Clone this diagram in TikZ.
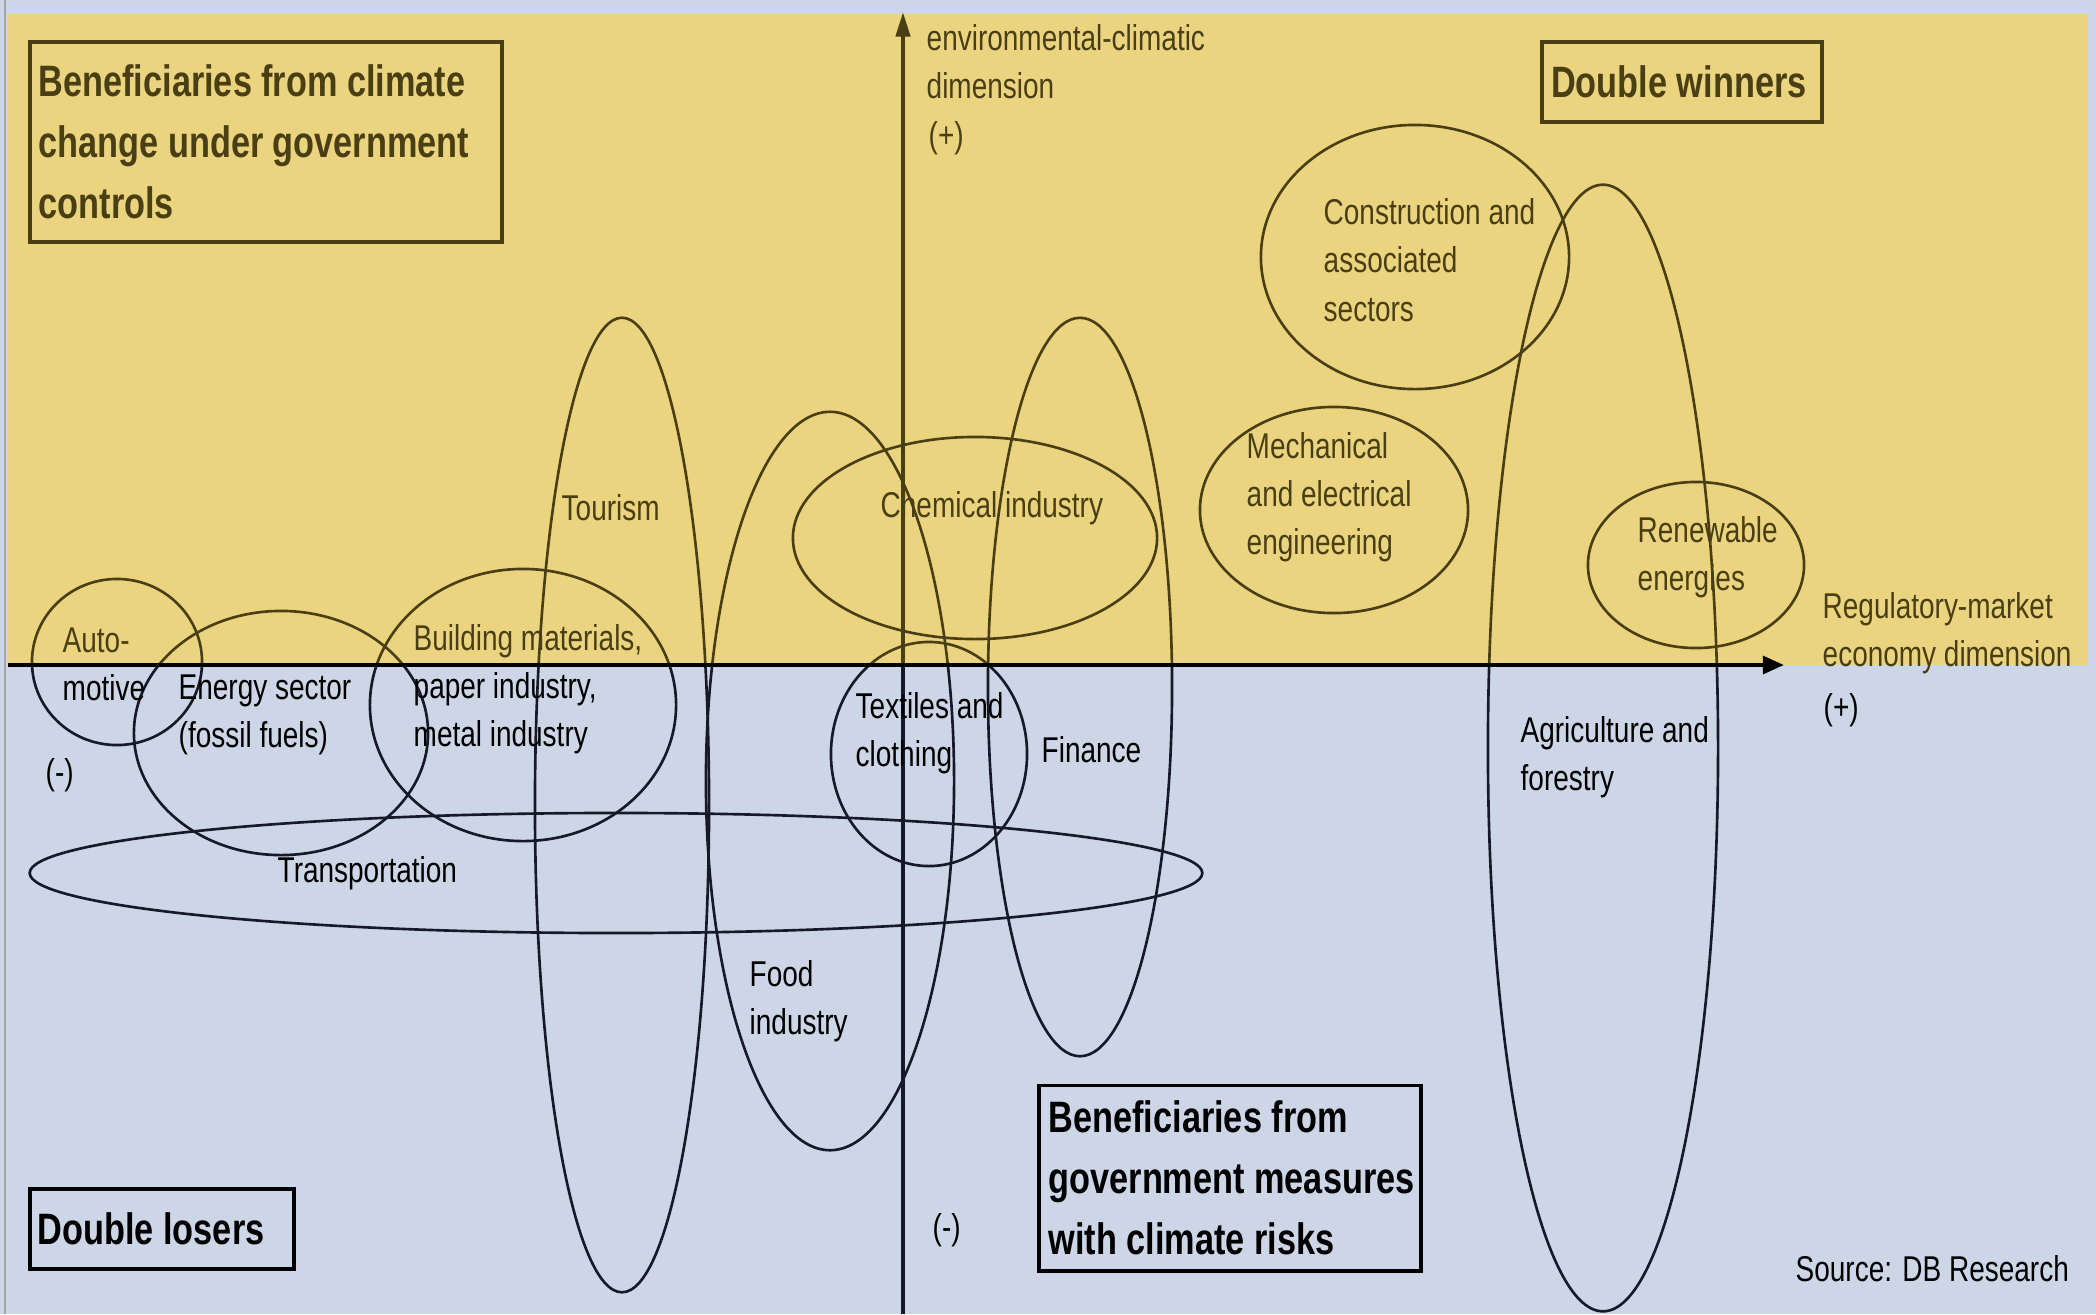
\documentclass[tikz,border=0pt]{standalone}
\usepackage{fontspec}
\setmainfont{Liberation Sans}[FakeStretch=0.78]
\usetikzlibrary{arrows.meta}
\definecolor{bgblue}{HTML}{CDD6E6}
\definecolor{bandyellow}{HTML}{EBD480}
\definecolor{olivink}{HTML}{4A3F14}
\definecolor{inkdark}{HTML}{15192A}
\tikzset{
  ring/.style={line width=0.75pt},
  axisline/.style={line width=1.2pt},
  lbl/.style={font=\fontsize{10.2}{13.7}\selectfont, inner sep=0pt, anchor=west, align=left},
  framebox/.style={draw, line width=1.1pt, inner sep=0pt},
  boxtext/.style={font=\fontsize{12.5}{17.4}\selectfont\bfseries, inner sep=0pt, anchor=west, align=left},
}
\newcommand\drawrings{%
  \draw[ring] (117,662) ellipse [x radius=0.85cm, y radius=0.83cm];
  \draw[ring] (281,733) ellipse [x radius=1.47cm, y radius=1.22cm];
  \draw[ring] (523,705) ellipse [x radius=1.53cm, y radius=1.36cm];
  \draw[ring] (622,805) ellipse [x radius=0.87cm, y radius=4.87cm];
  \draw[ring] (616,873) ellipse [x radius=5.86cm, y radius=0.60cm];
  \draw[ring] (830,781) ellipse [x radius=1.24cm, y radius=3.69cm];
  \draw[ring] (975,538) ellipse [x radius=1.82cm, y radius=1.01cm];
  \draw[ring] (1080,687) ellipse [x radius=0.92cm, y radius=3.69cm];
  \draw[ring] (929,754) ellipse [x radius=0.98cm, y radius=1.12cm];
  \draw[ring] (1415,257) ellipse [x radius=1.54cm, y radius=1.32cm];
  \draw[ring] (1334,510) ellipse [x radius=1.34cm, y radius=1.03cm];
  \draw[ring] (1696,565) ellipse [x radius=1.08cm, y radius=0.83cm];
  \draw[ring] (1603,748) ellipse [x radius=1.15cm, y radius=5.63cm];
  \draw[axisline,-{Triangle[length=7pt,width=4pt]}] (yo) -- (ye);
}
\begin{document}
\begin{tikzpicture}[x=0.01cm,y=-0.01cm]
\useasboundingbox (0,0) rectangle (2096,1314);
\fill[bgblue] (0,0) rectangle (2096,1314);
\fill[bandyellow] (7,14) rectangle (2088,665);
\draw[gray!70, line width=0.5pt] (5,0) -- (5,1314);
\coordinate (xo) at (8,665);
\coordinate (xe) at (1784,665);
\coordinate (yo) at (903,1314);
\coordinate (ye) at (903,12);
% rings and vertical axis: dark below the band, olive inside it
\begin{scope}
  \clip (0,665) rectangle (2096,1314);
  \begin{scope}[color=inkdark] \drawrings \end{scope}
\end{scope}
\begin{scope}
  \clip (0,0) rectangle (2096,665);
  \begin{scope}[color=olivink] \drawrings \end{scope}
\end{scope}
\draw[axisline, color=black, -{Triangle[length=6pt,width=5pt]}] (xo) -- (xe);
% boxes
\node[framebox, color=olivink, minimum width=4.72cm, minimum height=2.0cm] (boxgov) at (266,142) {};
\node[boxtext, color=olivink] (boxgovtxt) at ([xshift=0.1cm]boxgov.west)
  {Beneficiaries from climate\\change under government\\controls};
\node[framebox, color=olivink, minimum width=2.79cm, minimum height=0.80cm] (boxwin) at (1682,82) {};
\node[boxtext, color=olivink] (boxwintxt) at ([xshift=0.1cm]boxwin.west) {Double winners};
\node[framebox, color=black, minimum width=2.64cm, minimum height=0.80cm] (boxlos) at (162,1229) {};
\node[boxtext, color=black] (boxlostxt) at ([xshift=0.09cm]boxlos.west) {Double losers};
\node[framebox, color=black, minimum width=3.82cm, minimum height=1.85cm] (boxrisk) at (1230,1178) {};
\node[boxtext, color=black] (boxrisktxt) at ([xshift=0.11cm]boxrisk.west)
  {Beneficiaries from\\government measures\\with climate risks};
% axis labels
\node[lbl, color=olivink] (envlbl) at (926,62) {environmental-climatic\\dimension};
\node[lbl, color=olivink] (envplus) at (928,138) {(+)};
\node[lbl, color=olivink] (reglbl) at (1822,633) {Regulatory-market\\economy dimension};
\node[lbl, color=black] (regplus) at (1823,710) {(+)};
\node[lbl, color=black] (minusx) at (45,775) {(-)};
\node[lbl, color=black] (minusy) at (932,1230) {(-)};
% sector labels
\node[lbl] (auto) at (62,664) {{\color{olivink}Auto-}\\{\color{black}motive}};
\node[lbl, color=black] (energy) at (178,715) {Energy sector\\(fossil fuels)};
\node[lbl] (building) at (413,689) {{\color{olivink}Building materials,}\\{\color{black}paper industry,}\\{\color{black}metal industry}};
\node[lbl, color=olivink] (tourism) at (561,508) {Tourism};
\node[lbl, color=olivink] (chemical) at (880,508) {Chemical industry};
\node[lbl, color=olivink] (construction) at (1323,260) {Construction and\\associated\\sectors};
\node[lbl, color=olivink] (mechanical) at (1246,497) {Mechanical\\and electrical\\engineering};
\node[lbl, color=olivink] (renewable) at (1637,557) {Renewable\\energies};
\node[lbl, color=black] (textiles) at (855,733) {Textiles and\\clothing};
\node[lbl, color=black] (finance) at (1041,750) {Finance};
\node[lbl, color=black] (transport) at (277,873) {Transportation};
\node[lbl, color=black] (food) at (749,1001) {Food\\industry};
\node[lbl, color=black] (agri) at (1520,757) {Agriculture and\\forestry};
\node[lbl, color=black] (source) at (1795,1269) {Source: DB Research};
\end{tikzpicture}
\end{document}
